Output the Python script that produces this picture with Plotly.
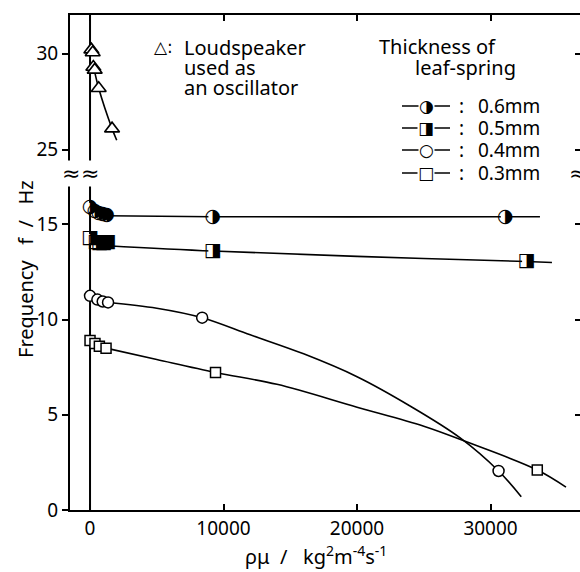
import plotly.graph_objects as go

# ---------------- data ----------------
# 0.6 mm leaf-spring (half-filled circles)
x_06 = [0, 350, 650, 950, 1250, 9200, 31100]
y_06 = [15.9, 15.7, 15.6, 15.55, 15.5, 15.4, 15.4]
cx_06 = [1250, 9200, 31100, 33700]
cy_06 = [15.45, 15.4, 15.4, 15.4]

# 0.5 mm (half-filled squares)
x_05 = [0, 450, 700, 1000, 1300, 9200, 32700]
y_05 = [14.25, 14.05, 14.0, 14.0, 14.05, 13.6, 13.05]
cx_05 = [1300, 9200, 20000, 32700, 34600]
cy_05 = [13.88, 13.6, 13.32, 13.05, 13.0]

# 0.4 mm (open circles)
x_04 = [0, 550, 950, 1350, 8400, 30600]
y_04 = [11.25, 11.05, 10.95, 10.9, 10.1, 2.05]
cx_04 = [1350, 5000, 8400, 12000, 16000, 20000, 24000, 27700, 30600, 32300]
cy_04 = [10.9, 10.6, 10.1, 9.2, 8.2, 7.0, 5.45, 3.8, 2.05, 0.7]

# 0.3 mm (open squares)
x_03 = [0, 370, 700, 1200, 9400, 33500]
y_03 = [8.9, 8.74, 8.6, 8.5, 7.22, 2.1]
cx_03 = [1200, 5000, 9400, 14000, 20000, 25000, 28500, 33500, 35650]
cy_03 = [8.5, 7.9, 7.22, 6.6, 5.4, 4.4, 3.5, 2.1, 1.2]

# loudspeaker used as oscillator (triangles)
x_ls = [100, 200, 250, 350, 650, 1650]
y_ls = [30.2, 30.05, 29.3, 29.15, 28.2, 26.1]
cx_ls = [300, 650, 1650, 2000]
cy_ls = [29.2, 28.2, 26.1, 25.5]

x_ticks = [0, 10000, 20000, 30000]
y_ticks_low = [0, 5, 10, 15]
y_ticks_high = [25, 30]

legend_labels = ["0.6mm", "0.5mm", "0.4mm", "0.3mm"]
legend_glyphs = ["\u25D1", "\u25E8", "\u25CB", "\u25A1"]

# ---------------- layout geometry ----------------
W, H = 580, 572
PL, PR, PT, PB = 70, 580, 15, 510
BREAK = 0.677


def px(x):
    return (x - PL) / (PR - PL)


def py(y):
    return (PB - y) / (PB - PT)


FONT = "Noto Sans"
BLACK = "black"
LW = 1.6

fig = go.Figure()

# fitted curves
for cx, cy in [(cx_06, cy_06), (cx_05, cy_05), (cx_04, cy_04), (cx_03, cy_03)]:
    fig.add_trace(go.Scatter(x=cx, y=cy, mode="lines", line=dict(color=BLACK, width=LW, shape="spline"),
                             showlegend=False, hoverinfo="skip", xaxis="x", yaxis="y"))
fig.add_trace(go.Scatter(x=cx_ls, y=cy_ls, mode="lines", line=dict(color=BLACK, width=LW, shape="spline"),
                         showlegend=False, hoverinfo="skip", xaxis="x2", yaxis="y2"))

# half-filled markers (white mask + glyph)
for xs, ys, sym, g in [(x_06, y_06, "circle", "\u25D1"), (x_05, y_05, "square", "\u25E8")]:
    fig.add_trace(go.Scatter(x=xs, y=ys, mode="markers+text", text=[g] * len(xs),
                             textposition="middle center",
                             textfont=dict(family="DejaVu Sans", size=19, color=BLACK),
                             marker=dict(symbol=sym, size=9, color="white", line=dict(width=0)),
                             showlegend=False, xaxis="x", yaxis="y"))

# open markers
fig.add_trace(go.Scatter(x=x_04, y=y_04, mode="markers",
                         marker=dict(symbol="circle", size=11, color="white", line=dict(color=BLACK, width=1.5)),
                         showlegend=False, xaxis="x", yaxis="y"))
fig.add_trace(go.Scatter(x=x_03, y=y_03, mode="markers",
                         marker=dict(symbol="square", size=10, color="white", line=dict(color=BLACK, width=1.5)),
                         showlegend=False, xaxis="x", yaxis="y"))
fig.add_trace(go.Scatter(x=x_ls, y=y_ls, mode="markers",
                         marker=dict(symbol="triangle-up", size=13, color="white", line=dict(color=BLACK, width=1.6)),
                         showlegend=False, xaxis="x2", yaxis="y2"))

# empty traces so that the right-hand tick axes are drawn
fig.add_trace(go.Scatter(x=[], y=[], xaxis="x", yaxis="y3", showlegend=False, hoverinfo="skip"))
fig.add_trace(go.Scatter(x=[], y=[], xaxis="x2", yaxis="y4", showlegend=False, hoverinfo="skip"))

XR = [-1500, 36700]
axis_common = dict(showgrid=False, zeroline=False, showline=True, linecolor=BLACK, linewidth=2,
                   tickcolor=BLACK, tickwidth=2, tickfont=dict(family=FONT, size=19, color=BLACK))

fig.update_layout(
    width=W, height=H,
    margin=dict(l=PL, r=W - PR, t=PT, b=H - PB),
    paper_bgcolor="white", plot_bgcolor="white",
    showlegend=False,
    xaxis=dict(**axis_common, domain=[0, 1], range=XR, anchor="y", ticks="inside", ticklen=6,
               tickvals=x_ticks, ticktext=[str(v) for v in x_ticks]),
    xaxis2=dict(**axis_common, domain=[0, 1], range=XR, anchor="y2", side="top", ticks="inside", ticklen=6,
                tickvals=x_ticks, showticklabels=False),
    yaxis=dict(**axis_common, domain=[0, BREAK], range=[0, 17.6], anchor="x", ticks="outside", ticklen=6,
               tickvals=y_ticks_low),
    yaxis2=dict(**axis_common, domain=[BREAK, 1], range=[23.7, 32.0], anchor="x2", ticks="outside", ticklen=6,
                tickvals=y_ticks_high),
    yaxis3=dict(overlaying="y", side="right", anchor="x", range=[0, 17.6], showgrid=False, zeroline=False,
                showline=False, ticks="inside", ticklen=5, tickwidth=2, tickcolor=BLACK,
                tickvals=y_ticks_low[1:], showticklabels=False),
    yaxis4=dict(overlaying="y2", side="right", anchor="x2", range=[23.7, 32.0], showgrid=False, zeroline=False,
                showline=False, ticks="inside", ticklen=5, tickwidth=2, tickcolor=BLACK,
                tickvals=y_ticks_high, showticklabels=False),
)

# vertical reference line at x = 0
fig.add_shape(type="line", xref="x", yref="paper", x0=0, x1=0, y0=0, y1=1,
              line=dict(color=BLACK, width=2), layer="below")

ann = []
# axis titles
ann.append(dict(x=px(25), y=py(269), text="Frequency   f  /   Hz", textangle=-90,
                font=dict(family=FONT, size=20, color=BLACK)))
ann.append(dict(x=px(316), y=py(555),
                text="\u03c1\u03bc  /   kg<sup>2</sup>m<sup>-4</sup>s<sup>-1</sup>",
                font=dict(family=FONT, size=20, color=BLACK)))
# axis break marks
for bx in [71, 90, 578]:
    ann.append(dict(x=px(bx), y=py(174), text="\u2248", font=dict(family="DejaVu Sans", size=22, color=BLACK),
                    bgcolor="white", borderpad=0))
# loudspeaker note
ann.append(dict(x=px(163), y=py(47), text="\u25B3:", font=dict(family="DejaVu Sans", size=17, color=BLACK)))
for i, t in enumerate(["Loudspeaker", "used as", "an oscillator"]):
    ann.append(dict(x=px(182), y=py(48 + 19.5 * i), text=t, xanchor="left",
                    font=dict(family=FONT, size=20, color=BLACK)))
# legend
ann.append(dict(x=px(437), y=py(47), text="Thickness of", font=dict(family=FONT, size=20, color=BLACK)))
ann.append(dict(x=px(465), y=py(67), text="leaf-spring", font=dict(family=FONT, size=20, color=BLACK)))
rows = [106, 128, 150, 173]
for r, g, lab in zip(rows, legend_glyphs, legend_labels):
    fig.add_shape(type="line", xref="paper", yref="paper", x0=px(402), x1=px(450), y0=py(r), y1=py(r),
                  line=dict(color=BLACK, width=1.6))
    ann.append(dict(x=px(426), y=py(r), text=g, font=dict(family="DejaVu Sans", size=17, color=BLACK),
                    bgcolor="white", borderpad=0))
    ann.append(dict(x=px(461), y=py(r), text=":", font=dict(family=FONT, size=19, color=BLACK)))
    ann.append(dict(x=px(476), y=py(r), text=lab, xanchor="left", font=dict(family=FONT, size=19, color=BLACK)))

for a in ann:
    a.setdefault("xref", "paper")
    a.setdefault("yref", "paper")
    a.setdefault("showarrow", False)
    a.setdefault("xanchor", "center")
    a.setdefault("yanchor", "middle")
    fig.add_annotation(**a)

fig.write_html("out.html")
